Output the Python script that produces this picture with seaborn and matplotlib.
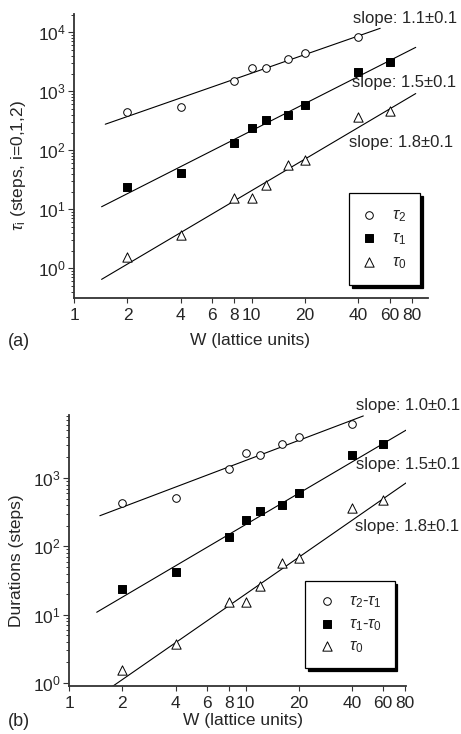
import numpy as np
import matplotlib
matplotlib.use("Agg")
import matplotlib.pyplot as plt
import seaborn as sns
from matplotlib.ticker import FixedLocator, FixedFormatter, LogLocator, LogFormatterSciNotation, NullFormatter

# ---------------- data ----------------
W_a2 = [2, 4, 8, 10, 12, 16, 20, 40]
tau2 = [451, 548, 1496, 2510, 2480, 3480, 4460, 8230]
W_a1 = [2, 4, 8, 10, 12, 16, 20, 40, 60]
tau1 = [23.6, 41.7, 134, 236, 326, 397, 593, 2150, 3090]
W_a0 = [2, 4, 8, 10, 12, 16, 20, 40, 60]
tau0 = [1.54, 3.62, 15.4, 15.4, 25.8, 57, 67.7, 362, 469]

W_b2 = [2, 4, 8, 10, 12, 16, 20, 40]
d21 = [432, 516, 1373, 2330, 2200, 3160, 4000, 6190]
W_b1 = [2, 4, 8, 10, 12, 16, 20, 40, 60]
d10 = [24, 41.7, 137, 240, 333, 408, 599, 2200, 3120]
W_b0 = [2, 4, 8, 10, 12, 16, 20, 40, 60]
d0 = [1.53, 3.69, 15.3, 15.3, 26, 57, 67.6, 365, 473]

# power-law fits: y = A * W**p over [wmin, wmax]
fit_a_exp = [1.05, 1.527, 1.78]
fit_a_pref = [180.7, 6.4, 0.344]
fit_a_wmin = [1.5, 1.43, 1.43]
fit_a_wmax = [53, 84, 84]
fit_b_exp = [0.978, 1.52, 1.79]
fit_b_pref = [190.0, 6.3, 0.325]
fit_b_wmin = [1.49, 1.43, 1.43]
fit_b_wmax = [46.4, 81, 81]

slope_a = ["slope: 1.1\u00b10.1", "slope: 1.5\u00b10.1", "slope: 1.8\u00b10.1"]
slope_b = ["slope: 1.0\u00b10.1", "slope: 1.5\u00b10.1", "slope: 1.8\u00b10.1"]
xticks = [1, 2, 4, 6, 8, 10, 20, 40, 60, 80]
xticklabels = ["1", "2", "4", "6", "8", "10", "20", "40", "60", "80"]

# ---------------- style ----------------
sns.set_style("ticks")
plt.rcParams["font.family"] = ["Liberation Sans", "DejaVu Sans"]
plt.rcParams["mathtext.fontset"] = "custom"
plt.rcParams["mathtext.rm"] = "Liberation Sans"
plt.rcParams["mathtext.it"] = "Liberation Sans:italic"
plt.rcParams["mathtext.bf"] = "Liberation Sans:bold"
plt.rcParams["font.size"] = 12

W_PX, H_PX = 461, 734
fig = plt.figure(figsize=(W_PX/100, H_PX/100), dpi=100)
ax_a = fig.add_axes([74/W_PX, 1-298/H_PX, 354/W_PX, 284/H_PX])
ax_b = fig.add_axes([69.3/W_PX, 1-686/H_PX, 336.7/W_PX, 270.7/H_PX])

def ftext(x, y, s, **kw):
    return fig.text(x/W_PX, 1-y/H_PX, s, **kw)

def style_axis(ax, xlim, ylim):
    ax.set_xscale("log")
    ax.set_yscale("log")
    ax.set_xlim(*xlim)
    ax.set_ylim(*ylim)
    for s in ["top", "right"]:
        ax.spines[s].set_visible(False)
    for s in ["left", "bottom"]:
        ax.spines[s].set_color("#333333")
        ax.spines[s].set_linewidth(1.3)
    ax.xaxis.set_major_locator(FixedLocator(xticks))
    ax.xaxis.set_major_formatter(FixedFormatter(xticklabels))
    ax.xaxis.set_minor_locator(FixedLocator([]))
    ax.yaxis.set_major_locator(LogLocator(base=10, numticks=10))
    ax.yaxis.set_major_formatter(LogFormatterSciNotation())
    ax.yaxis.set_minor_locator(LogLocator(base=10, subs=np.arange(2, 10), numticks=20))
    ax.yaxis.set_minor_formatter(NullFormatter())
    ax.tick_params(axis="x", which="major", direction="out", length=3.5, width=0.8,
                   labelsize=12.5, pad=4, color="#333333")
    ax.tick_params(axis="y", which="major", direction="out", length=4, width=0.8,
                   labelsize=12.5, pad=2, color="#333333")
    ax.tick_params(axis="y", which="minor", direction="out", length=2.5, width=0.7,
                   color="#333333")
    ax.grid(False)

def draw(ax, series, fits):
    handles = []
    for (w, y, marker, fc, s) in series:
        sns.scatterplot(x=w, y=y, ax=ax, marker=marker, color=fc, edgecolor="black",
                        linewidth=0.7, s=s, zorder=3, legend=False)
        handles.append(ax.collections[-1])
    for (p, A, w0, w1) in fits:
        xs = np.geomspace(w0, w1, 60)
        sns.lineplot(x=xs, y=A * xs ** p, ax=ax, color="black", linewidth=0.8,
                     legend=False, zorder=2)
    return handles

# ---------------- panel (a) ----------------
style_axis(ax_a, (1, 98.5), (10 ** -0.503, 10 ** 4.31))
h_a = draw(ax_a,
           [(W_a2, tau2, "o", "white", 30), (W_a1, tau1, "s", "black", 26),
            (W_a0, tau0, "^", "white", 45)],
           list(zip(fit_a_exp, fit_a_pref, fit_a_wmin, fit_a_wmax)))
ftext(250, 341, "W (lattice units)", fontsize=12.5, ha="center", va="center")
ftext(18, 166, r"$\tau_{\mathrm{i}}$ (steps, i=0,1,2)", fontsize=12.5,
      ha="center", va="center", rotation=90)
leg_a = ax_a.legend(h_a, [r"$\tau_2$", r"$\tau_1$", r"$\tau_0$"],
                    loc="upper left", bbox_to_anchor=(349/W_PX, 1-193/H_PX),
                    bbox_transform=fig.transFigure, borderaxespad=0,
                    fancybox=False, frameon=True, edgecolor="black",
                    shadow={"color": "black", "alpha": 1.0},
                    fontsize=12, handlelength=0.7, handletextpad=1.0,
                    labelspacing=0.4, borderpad=0.85)
leg_a.get_frame().set_linewidth(0.9)
leg_a.get_frame().set_alpha(1.0)

# ---------------- panel (b) ----------------
style_axis(ax_b, (1, 81), (10 ** -0.044, 10 ** 3.918))
h_b = draw(ax_b,
           [(W_b2, d21, "o", "white", 30), (W_b1, d10, "s", "black", 26),
            (W_b0, d0, "^", "white", 45)],
           list(zip(fit_b_exp, fit_b_pref, fit_b_wmin, fit_b_wmax)))
ftext(243, 720, "W (lattice units)", fontsize=12.5, ha="center", va="center")
ftext(17, 561, "Durations (steps)", fontsize=12.5, ha="center", va="center",
      rotation=90)
leg_b = ax_b.legend(h_b, [r"$\tau_2$-$\tau_1$", r"$\tau_1$-$\tau_0$", r"$\tau_0$"],
                    loc="upper left", bbox_to_anchor=(305/W_PX, 1-581/H_PX),
                    bbox_transform=fig.transFigure, borderaxespad=0,
                    fancybox=False, frameon=True, edgecolor="black",
                    shadow={"color": "black", "alpha": 1.0},
                    fontsize=12, handlelength=1.1, handletextpad=0.8,
                    labelspacing=0.35, borderpad=0.75)
leg_b.get_frame().set_linewidth(0.9)
leg_b.get_frame().set_alpha(1.0)

# ---------------- annotations ----------------
for txt, (x, y) in zip(slope_a, [(353, 19), (352, 83), (349, 143)]):
    ftext(x, y, txt, fontsize=12, ha="left", va="center")
for txt, (x, y) in zip(slope_b, [(356, 406), (356, 465), (355, 526)]):
    ftext(x, y, txt, fontsize=12, ha="left", va="center")
ftext(8, 341, "(a)", fontsize=13, ha="left", va="center")
ftext(8, 721, "(b)", fontsize=13, ha="left", va="center")

fig.savefig("out.png", dpi=100)
